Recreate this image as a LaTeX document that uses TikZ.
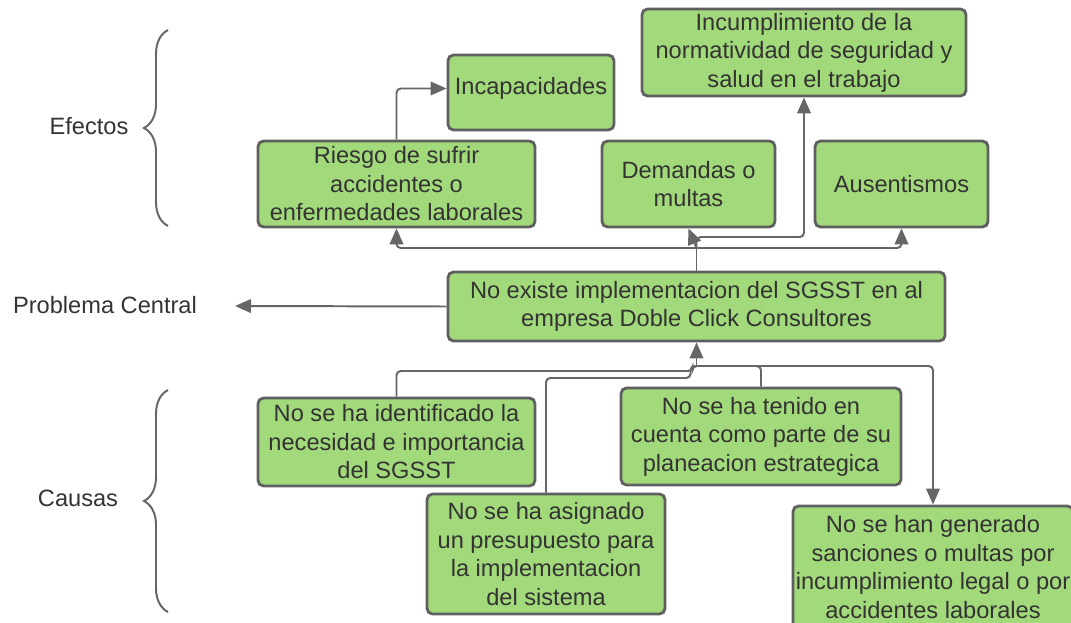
\documentclass[tikz,border=0pt]{standalone}
\usepackage{fontspec}
\setmainfont{Liberation Sans}
\usepackage{tikz}
\usetikzlibrary{calc,positioning,arrows.meta,decorations.pathreplacing}
\definecolor{BoxGreen}{HTML}{A2D97A}
\definecolor{BoxEdge}{HTML}{5F5F5F}
\definecolor{LineGray}{HTML}{666666}
\definecolor{TextGray}{HTML}{333333}

\begin{document}
\begin{tikzpicture}[x=0.025cm, y=-0.025cm,
		box/.style={draw=BoxEdge, line width=2pt, fill=BoxGreen, rounded corners=4pt, align=center, inner sep=0pt, text=TextGray, font=\fontsize{16.8pt}{20.3pt}\selectfont},
		lbl/.style={text=TextGray, font=\fontsize{16.8pt}{20.3pt}\selectfont},
		conn/.style={draw=LineGray, line width=1.4pt, rounded corners=3pt},
		tip/.style={-{Triangle[length=0.4cm, width=0.34cm]}},
		brc/.style={draw=LineGray, line width=1.4pt, decorate, decoration={brace, amplitude=0.6cm}}]
		\useasboundingbox (0,0) rectangle (1071,623);
		% efectos
		\node[box, minimum width=4.15cm, minimum height=1.875cm, text depth=0.35cm] (incap) at (531,92.5) {Incapacidades};
		\node[box, minimum width=8.1cm, minimum height=2.175cm] (incum) at (804,52.5) {Incumplimiento de la\\normatividad de seguridad y\\salud en el trabajo};
		\node[box, minimum width=6.925cm, minimum height=2.15cm] (riesgo) at (396.5,184) {Riesgo de sufrir\\accidentes o\\enfermedades laborales};
		\node[box, minimum width=4.325cm, minimum height=2.15cm] (demandas) at (688.5,184) {Demandas o\\multas};
		\node[box, minimum width=4.325cm, minimum height=2.15cm] (ausent) at (901.5,184) {Ausentismos};
		% problema central
		\node[box, minimum width=12.425cm, minimum height=1.725cm] (central) at (696.5,306.5) {No existe implementacion del SGSST en al\\empresa Doble Click Consultores};
		% causas
		\node[box, minimum width=6.925cm, minimum height=2.2cm] (identif) at (396.5,442) {No se ha identificado la\\necesidad e importancia\\del SGSST};
		\node[box, minimum width=7cm, minimum height=2.425cm] (tenido) at (761,436.5) {No se ha tenido en\\cuenta como parte de su\\planeacion estrategica};
		\node[box, minimum width=5.95cm, minimum height=3cm] (asignado) at (546,554) {No se ha asignado\\un presupuesto para\\la implementacion\\del sistema};
		\node[box, minimum width=7cm, minimum height=3.05cm] (sanciones) at (933,567) {No se han generado\\sanciones o multas por\\incumplimiento legal o por\\accidentes laborales};
		% etiquetas
		\node[lbl] (efectos) at (89,126) {Efectos};
		\node[lbl] (problema) at (105,305) {Problema Central};
		\node[lbl] (causas) at (78,498) {Causas};
		\draw[brc] (168,226) -- (168,30);
		\draw[brc] (168,612) -- (168,390);
		% conectores
		\coordinate (efj) at (696.5,248);
		\coordinate (incj) at (696.5,237);
		\coordinate (caj) at (696.5,366);
		\coordinate (pcend) at (235,306);
		\draw[conn] (central.north) -- (efj);
		\draw[conn, tip] (efj) -| (riesgo.south);
		\draw[conn, tip] (efj) -| (ausent.south);
		\draw[conn, tip] (efj) -- (demandas.south);
		\draw[conn, tip] (efj) -- (incj) -| (incum.south);
		\draw[conn, tip] (riesgo.north) |- ($(incap.west)+(0,-4)$);
		\draw[conn, tip] (central.west) -- (pcend);
		\draw[conn, tip] (caj) -- (central.south);
		\draw[conn] (identif.north) |- ($(caj)+(-4,5)$) |- (caj);
		\draw[conn] (asignado.north) |- ($(caj)+(-6,12)$) |- (caj);
		\draw[conn] (tenido.north) |- (caj);
		\draw[conn, tip] (caj) -| (sanciones.north);
	\end{tikzpicture}
\end{document}
